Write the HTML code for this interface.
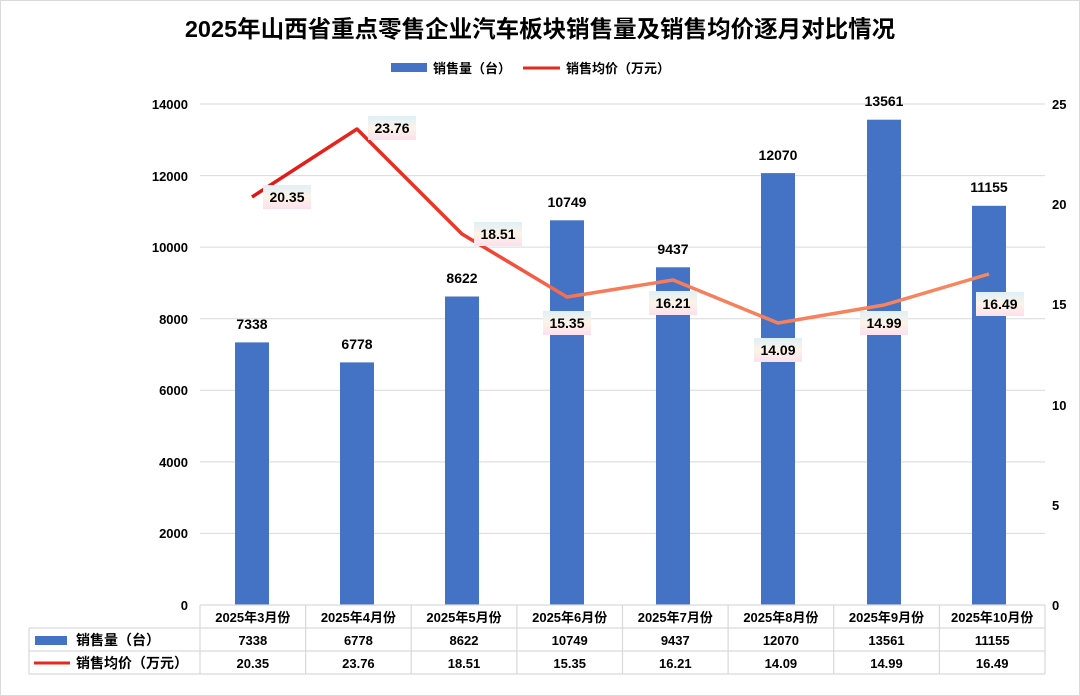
<!DOCTYPE html>
<html><head><meta charset="utf-8"><style>
html,body{margin:0;padding:0;background:#fff}
svg{display:block}
text{font-family:"Liberation Sans","Noto Sans CJK SC",sans-serif;fill:#000}
</style></head><body>
<svg width="1080" height="696" viewBox="0 0 1080 696" xmlns="http://www.w3.org/2000/svg">
<defs>
<linearGradient id="lg" x1="252" y1="0" x2="989" y2="0" gradientUnits="userSpaceOnUse">
<stop offset="0" stop-color="#e01515"/><stop offset="0.3" stop-color="#f03a2a"/><stop offset="0.45" stop-color="#f77a5a"/><stop offset="1" stop-color="#f7875f"/>
</linearGradient>
<linearGradient id="lb" x1="0" y1="0" x2="0" y2="1">
<stop offset="0" stop-color="#dff0f8"/><stop offset="0.5" stop-color="#fdf3e6"/><stop offset="1" stop-color="#fbe0ee"/>
</linearGradient>
</defs>
<rect x="0.5" y="0.5" width="1079" height="695" fill="#fff" stroke="#d9d9d9"/>
<text x="540" y="37" font-size="23.5" font-weight="bold" text-anchor="middle">2025年山西省重点零售企业汽车板块销售量及销售均价逐月对比情况</text>
<rect x="391" y="63" width="36" height="9" fill="#4472c4"/>
<text x="433" y="73" font-size="13" font-weight="bold">销售量（台）</text>
<line x1="523" y1="68" x2="560" y2="68" stroke="#e8281e" stroke-width="3"/>
<text x="566" y="73" font-size="13" font-weight="bold">销售均价（万元）</text>
<g stroke="#d9d9d9" stroke-width="1">
<line x1="200" y1="104" x2="1045" y2="104"/><line x1="200" y1="175.6" x2="1045" y2="175.6"/>
<line x1="200" y1="247.1" x2="1045" y2="247.1"/><line x1="200" y1="318.7" x2="1045" y2="318.7"/>
<line x1="200" y1="390.3" x2="1045" y2="390.3"/><line x1="200" y1="461.9" x2="1045" y2="461.9"/>
<line x1="200" y1="533.4" x2="1045" y2="533.4"/>
</g>
<g font-size="13" font-weight="bold" text-anchor="end">
<text x="188" y="109">14000</text><text x="188" y="181">12000</text><text x="188" y="252">10000</text>
<text x="188" y="324">8000</text><text x="188" y="395">6000</text><text x="188" y="467">4000</text>
<text x="188" y="538">2000</text><text x="188" y="610">0</text>
</g>
<g font-size="13" font-weight="bold">
<text x="1052" y="109">25</text><text x="1052" y="209">20</text><text x="1052" y="309">15</text>
<text x="1052" y="410">10</text><text x="1052" y="510">5</text><text x="1052" y="610">0</text>
</g>
<g fill="#4472c4">
<rect x="235" y="342.4" width="34" height="262.6"/><rect x="340" y="362.4" width="34" height="242.6"/>
<rect x="445" y="296.5" width="34" height="308.5"/><rect x="550" y="220.3" width="34" height="384.7"/>
<rect x="656" y="267.3" width="34" height="337.7"/><rect x="761" y="173.1" width="34" height="431.9"/>
<rect x="867" y="119.7" width="34" height="485.3"/><rect x="972" y="205.8" width="34" height="399.2"/>
</g>
<g font-size="14" font-weight="bold" text-anchor="middle">
<text x="252" y="329">7338</text><text x="357" y="349">6778</text><text x="462" y="283">8622</text>
<text x="567" y="207">10749</text><text x="673" y="254">9437</text><text x="778" y="160">12070</text>
<text x="884" y="106">13561</text><text x="989" y="192">11155</text>
</g>
<polyline points="252,197 357,129 462,234 567,297 673,280 778,323 884,305 989,274" fill="none" stroke="url(#lg)" stroke-width="3.5" stroke-linejoin="round"/>
<g fill="url(#lb)">
<rect x="263" y="185" width="48" height="24"/><rect x="368" y="116" width="48" height="24"/>
<rect x="474" y="222" width="48" height="24"/><rect x="543" y="311" width="48" height="24"/>
<rect x="649" y="291" width="48" height="24"/><rect x="754" y="338" width="48" height="24"/>
<rect x="860" y="311" width="48" height="24"/><rect x="976" y="292" width="48" height="24"/>
</g>
<g font-size="14" font-weight="bold" text-anchor="middle">
<text x="287" y="202">20.35</text><text x="392" y="133">23.76</text><text x="498" y="239">18.51</text>
<text x="567" y="328">15.35</text><text x="673" y="308">16.21</text><text x="778" y="355">14.09</text>
<text x="884" y="328">14.99</text><text x="1000" y="309">16.49</text>
</g>
<g stroke="#d9d9d9" stroke-width="1.2" fill="none">
<line x1="200" y1="605" x2="1045" y2="605"/>
<line x1="29" y1="628" x2="1045" y2="628"/>
<line x1="29" y1="651" x2="1045" y2="651"/>
<line x1="29" y1="674" x2="1045" y2="674"/>
<line x1="29" y1="628" x2="29" y2="674"/>
<line x1="200" y1="605" x2="200" y2="674"/><line x1="305.6" y1="605" x2="305.6" y2="674"/>
<line x1="411.2" y1="605" x2="411.2" y2="674"/><line x1="516.9" y1="605" x2="516.9" y2="674"/>
<line x1="622.5" y1="605" x2="622.5" y2="674"/><line x1="728.1" y1="605" x2="728.1" y2="674"/>
<line x1="833.7" y1="605" x2="833.7" y2="674"/><line x1="939.4" y1="605" x2="939.4" y2="674"/>
<line x1="1045" y1="605" x2="1045" y2="674"/>
</g>
<rect x="35" y="636" width="32" height="9" fill="#4472c4"/>
<line x1="34" y1="663" x2="70" y2="663" stroke="#e8281e" stroke-width="3"/>
<text x="76" y="645" font-size="14" font-weight="bold">销售量（台）</text>
<text x="76" y="668" font-size="14" font-weight="bold">销售均价（万元）</text>
<g font-size="13" font-weight="bold" text-anchor="middle">
<text x="252.8" y="622">2025年3月份</text><text x="358.4" y="622">2025年4月份</text><text x="464" y="622">2025年5月份</text>
<text x="569.7" y="622">2025年6月份</text><text x="675.3" y="622">2025年7月份</text><text x="780.9" y="622">2025年8月份</text>
<text x="886.5" y="622">2025年9月份</text><text x="992.2" y="622">2025年10月份</text>
<text x="252.8" y="645">7338</text><text x="358.4" y="645">6778</text><text x="464" y="645">8622</text>
<text x="569.7" y="645">10749</text><text x="675.3" y="645">9437</text><text x="780.9" y="645">12070</text>
<text x="886.5" y="645">13561</text><text x="992.2" y="645">11155</text>
<text x="252.8" y="668">20.35</text><text x="358.4" y="668">23.76</text><text x="464" y="668">18.51</text>
<text x="569.7" y="668">15.35</text><text x="675.3" y="668">16.21</text><text x="780.9" y="668">14.09</text>
<text x="886.5" y="668">14.99</text><text x="992.2" y="668">16.49</text>
</g>
</svg>
</body></html>
